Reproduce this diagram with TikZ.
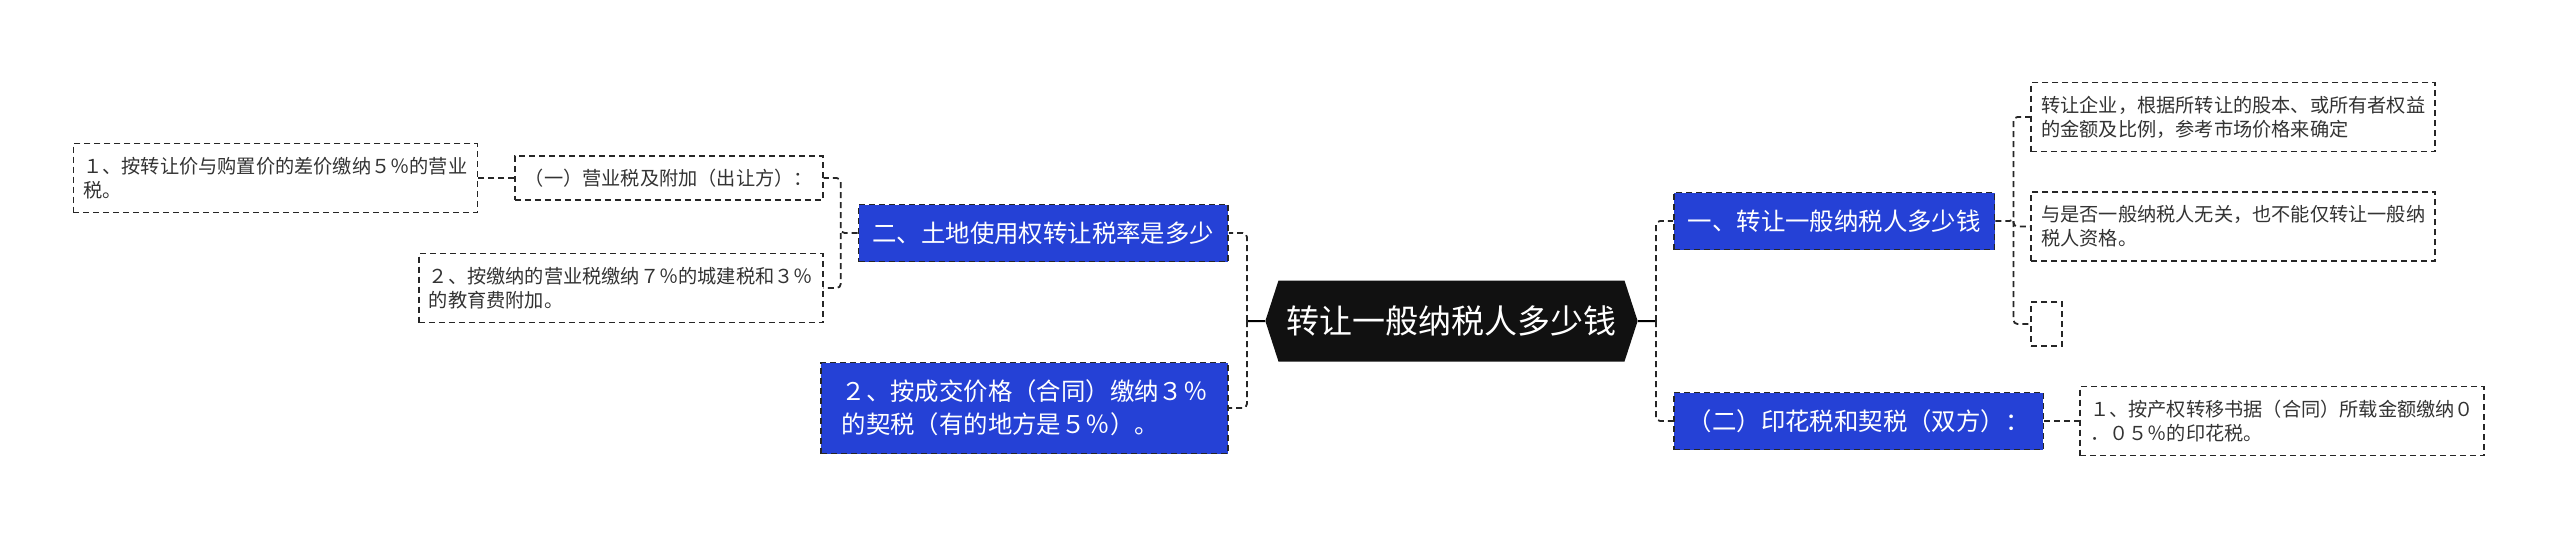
\documentclass[tikz,border=0pt]{standalone}
\usepackage{fontspec}
\setmainfont{Noto Sans CJK SC}
\usetikzlibrary{positioning,shapes.symbols,calc}
\definecolor{mapblue}{HTML}{2541D6}
\definecolor{rootblack}{HTML}{111111}
\definecolor{leaftext}{HTML}{333333}

\begin{document}
\begin{tikzpicture}[
    topic/.style={shape=signal, signal to=west and east, signal pointer angle=144,
                  fill=rootblack, text=white, minimum width=181.5pt, minimum height=40.5pt,
                  inner xsep=4pt, font=\fontsize{16.5}{20}\selectfont},
    branch/.style={draw=black!85, dash pattern=on 3pt off 2pt, line width=0.8pt,
                   fill=mapblue, text=white, minimum height=28.5pt, inner xsep=7pt,
                   align=left, font=\fontsize{12.2}{16.5}\selectfont},
    leaf/.style={draw=black!85, dash pattern=on 3pt off 2pt, line width=0.8pt,
                 fill=white, text=leaftext, minimum height=22pt, inner xsep=5pt,
                 align=left, font=\fontsize{9.6}{12}\selectfont},
    twoline/.style={leaf, minimum width=202pt, minimum height=34.5pt},
    link/.style={draw=black!85, dash pattern=on 3pt off 2pt, line width=0.9pt, rounded corners=2pt},
    stem/.style={draw=black, line width=1pt}
]
\path[fill=white, use as bounding box] (-725.75pt,-108.5pt) rectangle (554.25pt,160.5pt);

% --- centre ---
\node[topic] (root) {转让一般纳税人多少钱};

% --- right half ---
\node[branch, right=17.5pt of root, yshift=50pt]  (sell)  {一、转让一般纳税人多少钱};
\node[branch, right=17.5pt of root, yshift=-50pt] (stamp) {（二）印花税和契税（双方）：};

\node[twoline, right=17.5pt of sell, yshift=52pt]    (price)  {转让企业，根据所转让的股本、或所有者权益\\的金额及比例，参考市场价格来确定};
\node[twoline, right=17.5pt of sell, yshift=-2.75pt] (status) {与是否一般纳税人无关，也不能仅转让一般纳\\税人资格。};
\node[leaf, minimum width=15.5pt, right=17.5pt of sell, yshift=-51.5pt] (blank) {};
\node[twoline, right=17.5pt of stamp] (stamprate) {１、按产权转移书据（合同）所载金额缴纳０\\．０５％的印花税。};

% --- left half ---
\node[branch, left=18pt of root, yshift=44pt] (land) {二、土地使用权转让税率是多少};
\node[branch, left=18pt of root, yshift=-43.5pt, minimum width=203.5pt, minimum height=45.5pt] (deed)
    {２、按成交价格（合同）缴纳３％\\的契税（有的地方是５％）。};

\node[leaf, left=17pt of land, yshift=27.5pt]     (biz)   {（一）营业税及附加（出让方）：};
\node[twoline, left=17pt of land, yshift=-27.5pt] (city)  {２、按缴纳的营业税缴纳７％的城建税和３％\\的教育费附加。};
\node[twoline, left=18pt of biz]                  (diff)  {１、按转让价与购置价的差价缴纳５％的营业\\税。};

% --- connectors ---
\coordinate[left=9pt of root]  (lhub);
\coordinate[right=9pt of root] (rhub);
\draw[stem] (root) -- (lhub);
\draw[stem] (root) -- (rhub);
\draw[link] (lhub) |- (land);
\draw[link] (lhub) |- (deed);
\draw[link] (rhub) |- (sell);
\draw[link] (rhub) |- (stamp);

\coordinate[right=9pt of sell] (sellhub);
\draw[link] (sell) -- (sellhub) |- (price);
\draw[link] (sellhub) |- (status);
\draw[link] (sellhub) |- (blank);
\draw[link] (stamp) -- (stamprate);

\coordinate[left=8.5pt of land] (landhub);
\draw[link] (land) -- (landhub) |- (biz);
\draw[link] (landhub) |- (city);
\draw[link] (biz) -- (diff);
\end{tikzpicture}
\end{document}
